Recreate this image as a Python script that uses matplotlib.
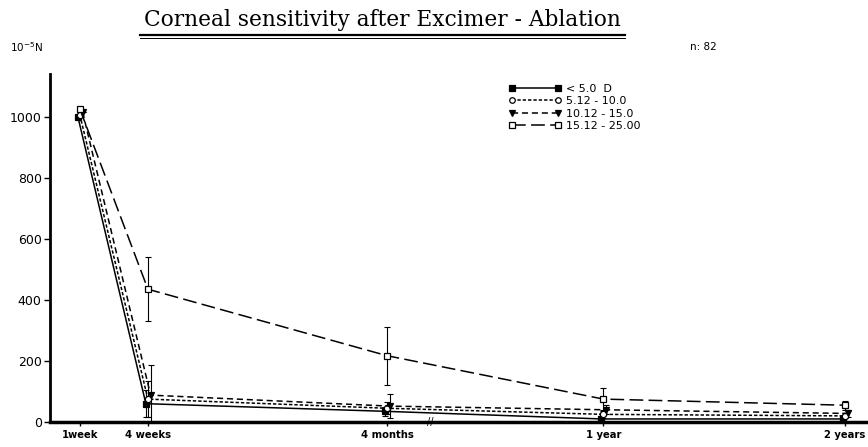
import matplotlib
matplotlib.use("Agg")
import matplotlib.pyplot as plt
from matplotlib.lines import Line2D

# ---- data ----
time_labels = ["1week", "4 weeks", "4 months", "1 year", "2 years"]
time_pos = [0.0, 1.0, 4.52, 7.7, 11.25]   # schematic (broken) time axis

series_labels = ["< 5.0  D", "5.12 - 10.0", "10.12 - 15.0", "15.12 - 25.00"]
vals_a = [1000, 60, 35, 10, 10]
vals_b = [1005, 75, 45, 25, 20]
vals_c = [1015, 88, 52, 40, 28]
vals_d = [1025, 435, 217, 75, 55]
err_a = [0, 45, 15, 10, 8]
err_b = [0, 60, 20, 12, 8]
err_c = [0, 100, 40, 15, 12]
err_d = [0, 105, 95, 35, 15]

yticks = [0, 200, 400, 600, 800, 1000]

# ---- figure ----
W, H = 868, 447
fig = plt.figure(figsize=(W / 100, H / 100), dpi=100)
ax = fig.add_axes([50 / W, 25 / H, (W - 50) / W, (422 - 74) / H])

styles = [
    dict(ls="-", marker="s", mfc="black", ms=4.5),
    dict(ls=(0, (2.2, 1.3)), marker="o", mfc="white", ms=4.5),
    dict(ls=(0, (4, 2.5)), marker="v", mfc="black", ms=4.5),
    dict(ls=(0, (9, 3.5)), marker="s", mfc="white", ms=4.5),
]
offsets = [-0.03, 0.0, 0.04, 0.0]
all_vals = [vals_a, vals_b, vals_c, vals_d]
all_errs = [err_a, err_b, err_c, err_d]

for vals, errs, st, off in zip(all_vals, all_errs, styles, offsets):
    xs = [p + off for p in time_pos]
    ax.plot(xs, vals, color="black", lw=1.1, ls=st["ls"], marker=st["marker"],
            mfc=st["mfc"], mec="black", ms=st["ms"], mew=0.9, zorder=3)
    ax.errorbar(xs, vals, yerr=errs, fmt="none", ecolor="black", elinewidth=0.8,
                capsize=2, capthick=0.8, zorder=2)

ax.set_xlim(-0.44, 11.59)
ax.set_ylim(0, 1140)
ax.set_yticks(yticks)
ax.set_yticklabels([str(v) for v in yticks], fontsize=9)
ax.set_xticks(time_pos)
ax.set_xticklabels(time_labels, fontsize=8, fontweight="bold", fontstretch="condensed")
ax.tick_params(axis="y", direction="out", length=4, width=1, pad=2)
ax.tick_params(axis="x", direction="out", length=3, width=1, pad=3)
for s in ["top", "right"]:
    ax.spines[s].set_visible(False)
ax.spines["left"].set_linewidth(2.0)
ax.spines["bottom"].set_linewidth(2.5)

# axis break mark
ax.text(5.15, 0, "//", fontsize=7, ha="center", va="center")

# legend
handles = [Line2D([0], [0], color="black", lw=1.1, ls=st["ls"], marker=st["marker"],
                  mfc=st["mfc"], mec="black", ms=4, mew=0.9) for st in styles]
leg = ax.legend(handles, series_labels, loc="upper left", bbox_to_anchor=(0.555, 0.985),
                frameon=False, numpoints=2, handlelength=4.8, fontsize=8,
                labelspacing=0.22, handletextpad=0.4, borderaxespad=0)

# texts
fig.text(382 / W, 1 - 20 / H, "Corneal sensitivity after Excimer - Ablation",
         ha="center", va="center", fontsize=15.7, family="DejaVu Serif")
fig.add_artist(Line2D([140 / W, 625 / W], [1 - 35 / H, 1 - 35 / H], color="black", lw=1.6))
fig.add_artist(Line2D([140 / W, 625 / W], [1 - 38 / H, 1 - 38 / H], color="black", lw=0.7))
fig.text(10 / W, 1 - 47 / H, r"$10^{-5}$N", ha="left", va="center", fontsize=7.5)
fig.text(690 / W, 1 - 47 / H, "n: 82", ha="left", va="center", fontsize=7.5)

fig.savefig("out.png", dpi=100)
